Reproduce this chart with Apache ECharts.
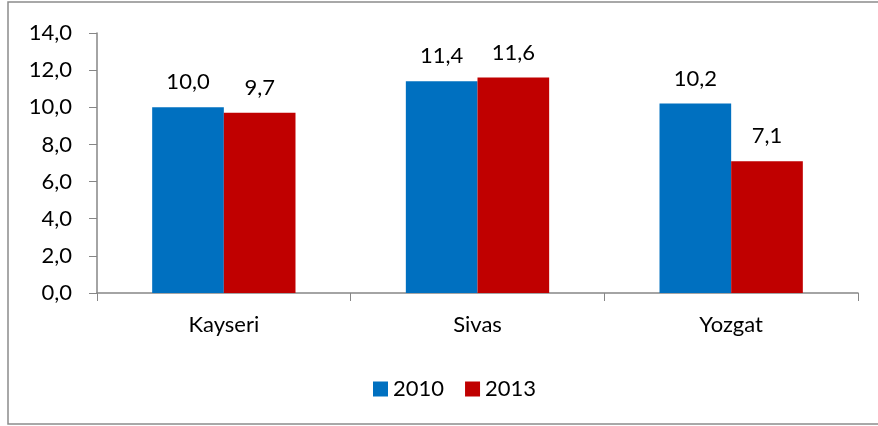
<!DOCTYPE html>
<html>
<head>
<meta charset="utf-8">
<script src="https://cdn.jsdelivr.net/npm/echarts@6/dist/echarts.min.js"></script>
<style>
  html, body { margin: 0; padding: 0; background: #fff; }
  #chart { width: 878px; height: 426px; }
</style>
</head>
<body>
<div id="chart"></div>
<script>
const cities = ['Kayseri', 'Sivas', 'Yozgat'];
const years = ['2010', '2013'];
const values2010 = [10.0, 11.4, 10.2];
const values2013 = [9.7, 11.6, 7.1];

const FONT = 'Lato, "Liberation Sans", sans-serif';
const FS = 22;
const comma = v => Number(v).toFixed(1).replace('.', ',');

const chart = echarts.init(document.getElementById('chart'));

const barLabel = {
  show: true,
  position: 'top',
  distance: 14,
  fontFamily: FONT,
  fontSize: FS,
  color: '#000',
  formatter: p => comma(p.value)
};

chart.setOption({
  animation: false,
  backgroundColor: '#fff',
  graphic: [{
    type: 'rect',
    shape: { x: 8, y: 2, width: 880, height: 422 },
    style: { fill: 'none', stroke: '#8c8c8c', lineWidth: 1.5 },
    silent: true
  }],
  grid: { left: 97, right: 20, top: 33, bottom: 133 },
  legend: {
    data: years,
    left: 368,
    top: 373,
    itemWidth: 15,
    itemHeight: 15,
    itemGap: 21,
    icon: 'rect',
    textStyle: { fontFamily: FONT, fontSize: FS, color: '#000' }
  },
  xAxis: {
    type: 'category',
    data: cities,
    axisLine: { lineStyle: { color: '#868686', width: 1.5 } },
    axisTick: { show: true, alignWithLabel: false, length: 8, lineStyle: { color: '#868686' } },
    axisLabel: { margin: 21, fontFamily: FONT, fontSize: FS, color: '#000' }
  },
  yAxis: {
    type: 'value',
    min: 0,
    max: 14,
    interval: 2,
    splitLine: { show: false },
    axisLine: { show: true, lineStyle: { color: '#868686', width: 1.5 } },
    axisTick: { show: true, length: 8, lineStyle: { color: '#868686' } },
    axisLabel: { margin: 25, fontFamily: FONT, fontSize: FS, color: '#000', formatter: comma }
  },
  series: [
    {
      name: '2010',
      type: 'bar',
      data: values2010,
      barGap: '0%',
      barCategoryGap: '43.5%',
      itemStyle: { color: '#0070C0' },
      label: barLabel
    },
    {
      name: '2013',
      type: 'bar',
      data: values2013,
      itemStyle: { color: '#C00000' },
      label: barLabel
    }
  ]
});
</script>
</body>
</html>
